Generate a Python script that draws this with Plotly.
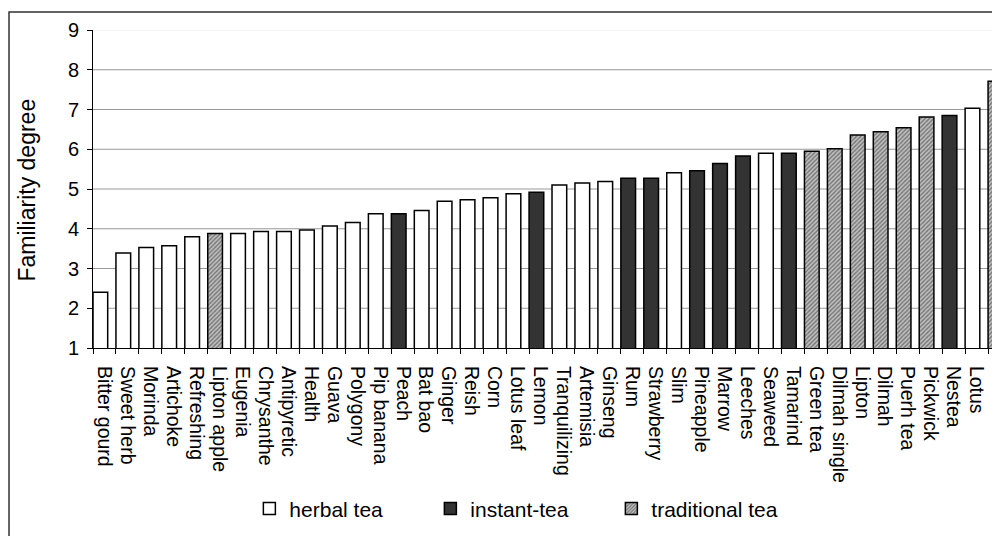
import plotly.graph_objects as go

categories = ["Bitter gourd", "Sweet herb", "Morinda", "Artichoke", "Refreshing",
              "Lipton apple", "Eugenia", "Chrysanthe", "Antipyretic", "Health",
              "Guava", "Polygony", "Pip banana", "Peach", "Bat bao", "Ginger",
              "Reish", "Corn", "Lotus leaf", "Lemon", "Tranquilizing", "Artemisia",
              "Ginseng", "Rum", "Strawberry", "Slim", "Pineapple", "Marrow",
              "Leeches", "Seaweed", "Tamarind", "Green tea", "Dilmah single",
              "Lipton", "Dilmah", "Puerh tea", "Pickwick", "Nestea", "Lotus", "Jasmine"]
values = [2.40, 3.39, 3.53, 3.57, 3.80, 3.88, 3.88, 3.93, 3.93, 3.97,
          4.07, 4.16, 4.38, 4.38, 4.46, 4.69, 4.73, 4.78, 4.88, 4.92,
          5.10, 5.15, 5.19, 5.27, 5.27, 5.41, 5.46, 5.64, 5.83, 5.90,
          5.90, 5.95, 6.01, 6.36, 6.44, 6.54, 6.81, 6.85, 7.03, 7.71]
types = ["H", "H", "H", "H", "H", "T", "H", "H", "H", "H",
         "H", "H", "H", "I", "H", "H", "H", "H", "H", "I",
         "H", "H", "H", "I", "I", "H", "I", "I", "I", "H",
         "I", "T", "T", "T", "T", "T", "T", "I", "H", "T"]
series_codes = ["H", "I", "T"]
series_names = ["herbal tea", "instant-tea", "traditional tea"]
y_ticks = [1, 2, 3, 4, 5, 6, 7, 8, 9]
grid_values = [2, 3, 4, 5, 6, 7, 8]
y_title = "Familiarity degree"

FONT = "Liberation Sans, Arial, sans-serif"

styles = {
    "H": dict(color="white", line=dict(color="black", width=1.5)),
    "I": dict(color="#333333", line=dict(color="black", width=1.5)),
    "T": dict(color="#b0b0b0", line=dict(color="black", width=1.5),
              pattern=dict(shape="/", fgcolor="#2a2a2a", bgcolor="#c0c0c0",
                           size=3, solidity=0.45)),
}

fig = go.Figure()
for code, name in zip(series_codes, series_names):
    xs = [c for c, t in zip(categories, types) if t == code]
    ys = [v for v, t in zip(values, types) if t == code]
    fig.add_trace(go.Bar(x=xs, y=ys, name=name, marker=styles[code],
                         offset=-0.5, width=0.64))

for g in grid_values:
    fig.add_shape(type="line", xref="paper", x0=0, x1=1, yref="y", y0=g, y1=g,
                  line=dict(color="#999999", width=1), layer="below")
fig.add_shape(type="line", xref="paper", x0=0, x1=1, yref="y", y0=9, y1=9,
              line=dict(color="#eeeeee", width=1), layer="below")

# outer chart frame (clipped at right and bottom)
fig.add_shape(type="rect", xref="paper", yref="paper",
              x0=-0.0926, x1=1.05, y0=-0.7, y1=1.0566,
              line=dict(color="#333333", width=1.5), layer="below")

fig.add_annotation(text=y_title, xref="paper", yref="paper", x=-0.0728, y=0.498,
                   xanchor="center", yanchor="middle", textangle=-90,
                   showarrow=False, font=dict(family=FONT, size=23, color="black"))

fig.update_layout(
    width=992, height=528,
    margin=dict(l=85, r=0, t=22, b=188, autoexpand=False),
    paper_bgcolor="white", plot_bgcolor="white",
    barmode="overlay",
    font=dict(family=FONT, color="black", size=19),
    showlegend=True,
    legend=dict(orientation="h", x=0.1724, xanchor="left", y=-0.506, yanchor="middle",
                font=dict(family=FONT, size=21, color="black"),
                entrywidth=136, entrywidthmode="pixels",
                traceorder="normal", bgcolor="rgba(0,0,0,0)"),
    xaxis=dict(type="category", categoryorder="array", categoryarray=categories,
               tickmode="array", tickvals=categories, ticktext=categories,
               range=[-0.5, 39.02], tickangle=90, tickson="boundaries",
               ticks="outside", ticklen=5, tickcolor="black", tickwidth=1,
               ticklabelstandoff=13,
               showline=True, linecolor="black", linewidth=1, showgrid=False,
               tickfont=dict(family=FONT, size=19.5, color="black"), automargin=False),
    yaxis=dict(range=[1, 9], tickvals=y_ticks, ticks="outside", ticklen=5,
               tickcolor="black", tickwidth=1, showline=True, linecolor="black",
               linewidth=1, showgrid=False, zeroline=False, ticklabelstandoff=4,
               tickfont=dict(family=FONT, size=20, color="black"),
               automargin=False),
)

fig.write_html("out.html")
